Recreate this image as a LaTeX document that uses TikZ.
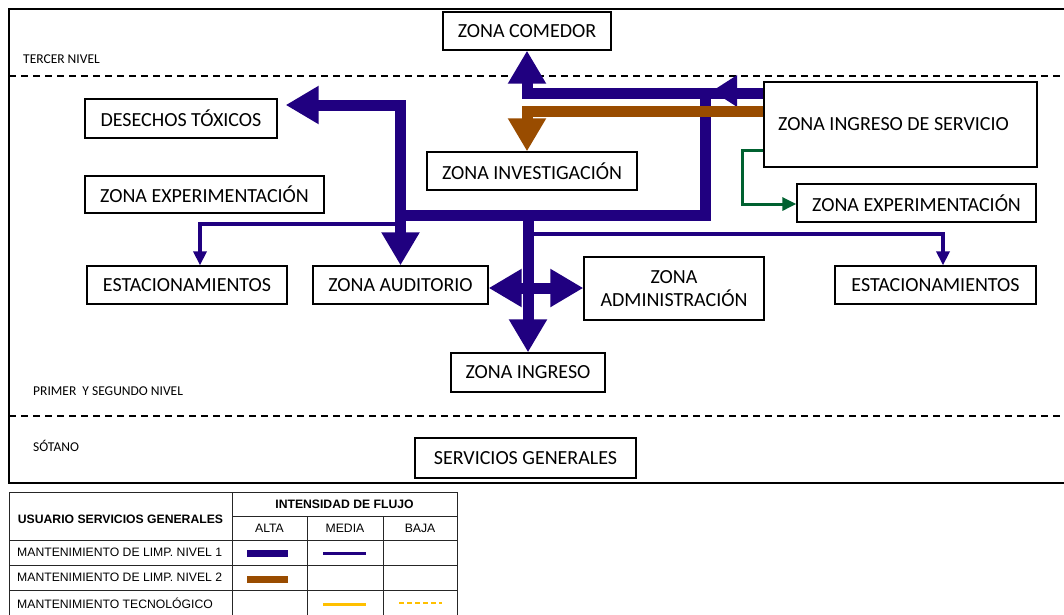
\documentclass[tikz,border=0pt]{standalone}
\usepackage{fontspec}
\setmainfont{Carlito}
\newfontfamily\legendfont{Liberation Sans}
\usetikzlibrary{arrows.meta}
\definecolor{flujoazul}{RGB}{32,0,128}
\definecolor{flujocafe}{RGB}{153,76,0}
\definecolor{flujoverde}{RGB}{0,97,48}
\definecolor{flujoamarillo}{RGB}{255,192,0}
\begin{document}
\begin{tikzpicture}[x=1pt,y=-1pt,
  zona/.style={draw,line width=1.3pt,fill=white,inner sep=0pt,align=center,
    font=\fontsize{20}{23}\selectfont},
  nivel/.style={anchor=west,inner sep=0pt,font=\fontsize{13.5}{15}\selectfont},
  grueso/.style={line width=11pt,line join=miter},
  fino/.style={line width=4pt,line join=miter},
  puntagrande/.tip={Triangle[width=36pt,length=33pt]},
  puntachica/.tip={Triangle[width=13pt,length=14pt]},
  leyenda/.style={inner sep=0pt,font=\legendfont\fontsize{12.2}{14}\selectfont},
  leyendab/.style={leyenda,font=\legendfont\bfseries\fontsize{12.2}{14}\selectfont},
  celda/.style={line width=0.8pt,draw=black!85}
]
\useasboundingbox (0,0) rectangle (1064,614);

% outer frame and level separators
\draw[line width=2.5pt] (1064,9) -- (9,9) -- (9,483) -- (1064,483);
\draw[line width=1.5pt,dash pattern=on 7pt off 5pt] (9,76) -- (1064,76);
\draw[line width=1.5pt,dash pattern=on 7pt off 5pt] (9,416) -- (1064,416);
\node[nivel] (n3) at (23,59) {TERCER NIVEL};
\node[nivel] (n12) at (33,391) {PRIMER \ Y SEGUNDO NIVEL};
\node[nivel] (n0) at (33,446) {SÓTANO};

% zones
\node[zona,minimum width=168pt,minimum height=38pt] (comedor) at (527,31) {ZONA COMEDOR};
\node[zona,minimum width=192pt,minimum height=39pt] (desechos) at (181,118.5) {DESECHOS TÓXICOS};
\node[zona,minimum width=239pt,minimum height=37pt] (expL) at (204.5,194.5) {ZONA EXPERIMENTACIÓN};
\node[zona,minimum width=200pt,minimum height=38pt] (estL) at (187,285) {ESTACIONAMIENTOS};
\node[zona,minimum width=175pt,minimum height=38pt] (auditorio) at (400.5,285) {ZONA AUDITORIO};
\node[zona,minimum width=210pt,minimum height=38pt] (investigacion) at (532,171) {ZONA INVESTIGACIÓN};
\node[zona,minimum width=273pt,minimum height=85pt] (ingserv) at (900.5,124.5) {ZONA INGRESO DE SERVICIO\hspace*{14pt}};
\node[zona,minimum width=239pt,minimum height=38pt] (expR) at (916.5,203) {ZONA EXPERIMENTACIÓN};
\node[zona,minimum width=180pt,minimum height=63pt] (admin) at (674,288.5) {ZONA\\ADMINISTRACIÓN};
\node[zona,minimum width=201pt,minimum height=38pt] (estR) at (935.5,285) {ESTACIONAMIENTOS};
\node[zona,minimum width=154pt,minimum height=39pt] (ingreso) at (528,372.5) {ZONA INGRESO};
\node[zona,minimum width=221pt,minimum height=40pt] (servicios) at (525.5,458) {SERVICIOS GENERALES};

% bend points of the flows
\coordinate (tope) at (527,93);
\coordinate (bajada) at (705,93);
\coordinate (cruce) at (705,215);
\coordinate (izq) at (400.5,105);
\coordinate (doble) at (528,288);
\coordinate (finoL) at (200,224);
\coordinate (finoR) at (943,234);
\coordinate (cafe) at (527,111);
\coordinate (verde1) at (742,150);
\coordinate (verde2) at (742,204);
\coordinate (medio) at (712,91);

% medium flows
\draw[fino,draw=flujoazul,-puntachica] (auditorio.north |- finoL) -- (finoL) -- (finoL |- estL.north);
\draw[fino,draw=flujoazul,-puntachica] (ingreso.north |- finoR) -- (finoR) -- (finoR |- estR.north);

% high flows, level 1
\draw[grueso,draw=flujoazul,-puntagrande] (ingserv.west |- tope) -- (tope) -- (comedor.south);
\draw[grueso,draw=flujoazul] (bajada) -- (cruce) -- (auditorio.north |- cruce);
\draw[grueso,draw=flujoazul,puntagrande-puntagrande,shorten <=8pt] (desechos.east |- izq) -- (izq) -- (auditorio.north);
\draw[grueso,draw=flujoazul,-puntagrande] (ingreso.north |- cruce) -- (ingreso.north);
\draw[grueso,draw=flujoazul,puntagrande-puntagrande] (doble -| auditorio.east) -- (doble -| admin.west);
\draw[line width=6pt,draw=flujoazul,-{Triangle[width=30pt,length=25pt]}] (ingserv.west |- medio) -- (medio);

% high flow, level 2
\draw[grueso,draw=flujocafe,-puntagrande] (ingserv.west |- cafe) -- (cafe) -- (cafe |- investigacion.north);

% technological maintenance
\draw[line width=3pt,draw=flujoverde,line join=miter,-{Triangle[width=13pt,length=14pt]}]
  (ingserv.west |- verde1) -- (verde1) -- (verde2) -- (expR.west |- verde2);

% legend table
\draw[celda] (9,492) rectangle (457,620);
\draw[celda] (232,492) -- (232,620);
\draw[celda] (307,516) -- (307,620);
\draw[celda] (383,516) -- (383,620);
\draw[celda] (232,516) -- (457,516);
\draw[celda] (9,540) -- (457,540);
\draw[celda] (9,565) -- (457,565);
\draw[celda] (9,590) -- (457,590);
\node[leyendab] (usuario) at (120.5,519) {USUARIO SERVICIOS GENERALES};
\node[leyendab] (intensidad) at (344.5,504) {INTENSIDAD DE FLUJO};
\node[leyenda] (alta) at (269.5,528) {ALTA};
\node[leyenda] (media) at (345,528) {MEDIA};
\node[leyenda] (baja) at (420,528) {BAJA};
\node[leyenda,anchor=west] (limp1) at (17,552) {MANTENIMIENTO DE LIMP. NIVEL 1};
\node[leyenda,anchor=west] (limp2) at (17,577) {MANTENIMIENTO DE LIMP. NIVEL 2};
\node[leyenda,anchor=west] (tecno) at (17,603) {MANTENIMIENTO TECNOLÓGICO};
\draw[line width=7pt,flujoazul] (247,553) -- (288,553);
\draw[line width=3pt,flujoazul] (323,553) -- (366,553);
\draw[line width=7pt,flujocafe] (247,579) -- (288,579);
\draw[line width=3pt,flujoamarillo] (323,604) -- (366,604);
\draw[line width=2pt,flujoamarillo,dash pattern=on 5pt off 3pt] (399,603) -- (442,603);
\end{tikzpicture}
\end{document}
